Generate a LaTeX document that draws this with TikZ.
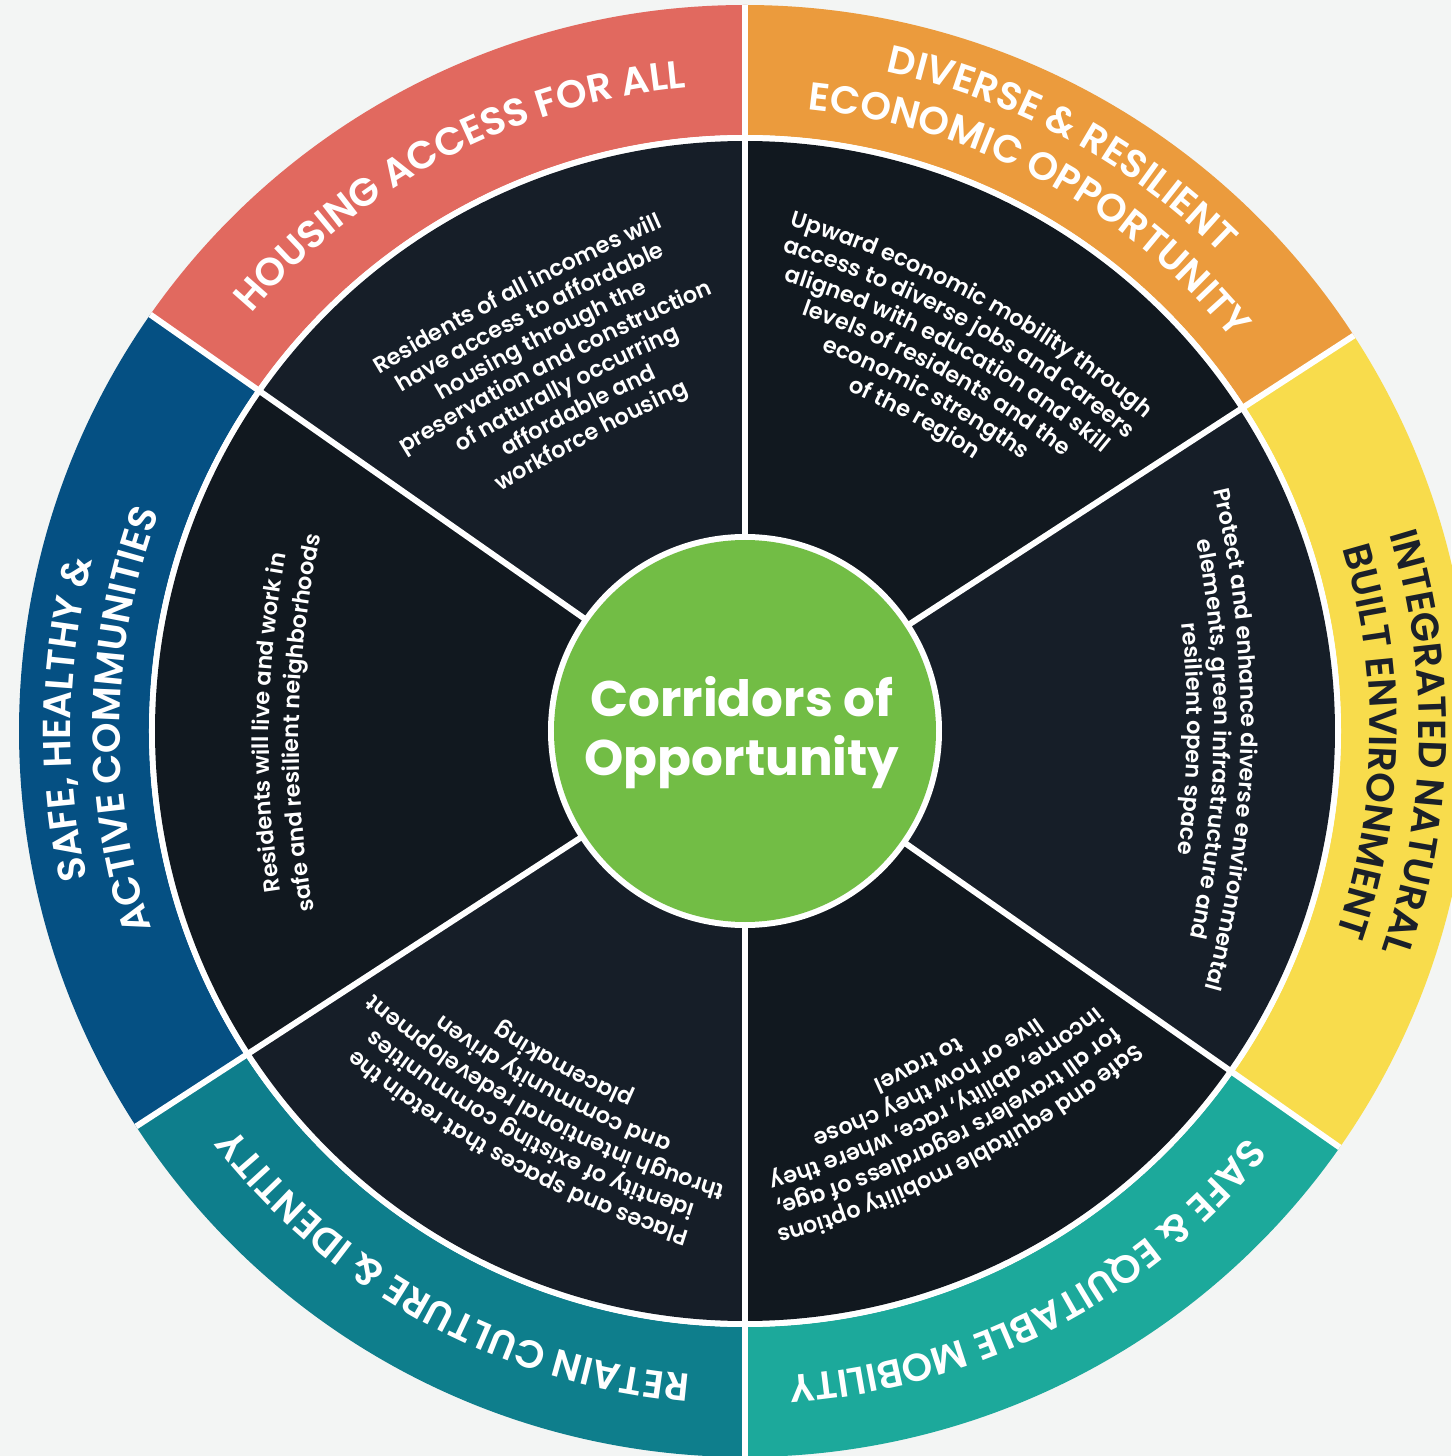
\documentclass[tikz,border=0pt]{standalone}
\usepackage{fontspec}
\setmainfont{Poppins}
\newfontfamily\semifont{Poppins}[UprightFont={* SemiBold}]
\usetikzlibrary{decorations.text,calc}
\definecolor{bgc}{HTML}{F3F5F4}
\definecolor{cred}{HTML}{E1695F}
\definecolor{corange}{HTML}{EB9B3D}
\definecolor{cyellow}{HTML}{F8DC4C}
\definecolor{cteal}{HTML}{1CA99B}
\definecolor{cdteal}{HTML}{0E7E8C}
\definecolor{cblue}{HTML}{055083}
\definecolor{cgreen}{HTML}{72BD45}
\definecolor{darkA}{HTML}{161E28}
\definecolor{darkB}{HTML}{11181F}
\definecolor{ink}{HTML}{1B2029}
\def\titlefont{\semifont\fontsize{39}{39}\selectfont}
\def\bodyfont{\semifont\fontsize{22.5}{22.5}\selectfont}
% ring title along arc centred on angle #1, radius #2, colour #3, text #4
\newcommand{\ttl}[4]{\path[decorate,decoration={text along path,text align=center,text color=#3,text={|\titlefont|#4}}] (#1+35:#2pt) arc[start angle=#1+35,end angle=#1-35,radius=#2pt];}
% body line: half angle #1, centre angle #2, offset #3, arc radius #4, text #5
\newcommand{\bl}[5][25]{\path[decorate,decoration={text along path,text align=center,text color=white,text={|\bodyfont|#5}}] ($(#2+180:#3pt)+(#2+#1:#4pt)$) arc[start angle=#2+#1,end angle=#2-#1,radius=#4pt];}
\newcommand{\ringseg}[3]{\fill[#3] (#1:726pt) arc[start angle=#1,end angle=#2,radius=726pt] -- (#2:596pt) arc[start angle=#2,end angle=#1,radius=596pt] -- cycle;}
\newcommand{\darkseg}[3]{\fill[#3] (0,0) -- (#1:590pt) arc[start angle=#1,end angle=#2,radius=590pt] -- cycle;}
\begin{document}
\begin{tikzpicture}[x=1pt,y=1pt]
\fill[bgc] (-745,-725) rectangle (706,731);
\useasboundingbox (-745,-725) rectangle (706,731);
% outer ring
\ringseg{145}{90}{cred}
\ringseg{90}{33}{corange}
\ringseg{33}{-35}{cyellow}
\ringseg{-35}{-90}{cteal}
\ringseg{-90}{-147}{cdteal}
\ringseg{-147}{-215}{cblue}
\fill[white] (0,0) circle[radius=596pt];
% dark sectors
\darkseg{145}{90}{darkA}
\darkseg{90}{33}{darkB}
\darkseg{33}{-35}{darkA}
\darkseg{-35}{-90}{darkB}
\darkseg{-90}{-147}{darkA}
\darkseg{-147}{-215}{darkB}
% dividers
\foreach \a in {90,33,-35,-90,-147,145} \draw[white,line width=6pt] (0,0) -- (\a:726pt);
% centre
\fill[white] (0,0) circle[radius=197pt];
\fill[cgreen] (0,0) circle[radius=191pt];
\node[anchor=base,text=white,font=\fontsize{50}{50}\selectfont\bfseries,inner sep=0pt] (ctrA) at (-3,14) {Corridors of};
\node[anchor=base,text=white,font=\fontsize{50}{50}\selectfont\bfseries,inner sep=0pt] (ctrB) at (-3,-44) {Opportunity};
% ring titles
\ttl{117.5}{646}{white}{HOUSING ACCESS FOR ALL}
\ttl{61.5}{674}{white}{DIVERSE {\&} RESILIENT}
\ttl{61.5}{625}{white}{ECONOMIC OPPORTUNITY}
\ttl{-1}{674}{ink}{INTEGRATED NATURAL}
\ttl{-1}{625}{ink}{BUILT ENVIRONMENT}
\ttl{-62.5}{646}{white}{SAFE {\&} EQUITABLE MOBILITY}
\ttl{-118.5}{646}{white}{RETAIN CULTURE {\&} IDENTITY}
\ttl{179}{674}{white}{SAFE, HEALTHY {\&}}
\ttl{179}{625}{white}{ACTIVE COMMUNITIES}
% top-left (almost straight lines)
\bl[8]{117.5}{2010}{2500}{Residents of all incomes will}
\bl[8]{117.5}{2010}{2473}{have access to affordable}
\bl[8]{117.5}{2010}{2446}{housing through the}
\bl[8]{117.5}{2010}{2419}{preservation and construction}
\bl[8]{117.5}{2010}{2392}{of naturally occurring}
\bl[8]{117.5}{2010}{2365}{affordable and}
\bl[8]{117.5}{2010}{2338}{workforce housing}
% top-right
\bl{61.5}{514}{1000}{Upward economic mobility through}
\bl{61.5}{514}{973}{access to diverse jobs and careers}
\bl{61.5}{514}{946}{aligned with education and skill}
\bl{61.5}{514}{919}{levels of residents and the}
\bl{61.5}{514}{892}{economic strengths}
\bl{61.5}{514}{865}{of the region}
% right
\bl{-1}{504}{1000}{Protect and enhance diverse environmental}
\bl{-1}{504}{973}{elements, green infrastructure and}
\bl{-1}{504}{946}{resilient open space}
% bottom-right
\bl{-62.5}{522}{1000}{Safe and equitable mobility options}
\bl{-62.5}{522}{973}{for all travelers regardless of age,}
\bl{-62.5}{522}{946}{income, ability, race, where they}
\bl{-62.5}{522}{919}{live or how they chose}
\bl{-62.5}{522}{892}{to travel}
% bottom-left
\bl{-118.5}{516}{1000}{Places and spaces that retain the}
\bl{-118.5}{516}{973}{identity of existing communities}
\bl{-118.5}{516}{946}{through intentional redevelopment}
\bl{-118.5}{516}{919}{and community driven}
\bl{-118.5}{516}{892}{placemaking}
% left
\bl{179}{524}{1000}{Residents will live and work in}
\bl{179}{524}{970}{safe and resilient neighborhoods}
\end{tikzpicture}
\end{document}
